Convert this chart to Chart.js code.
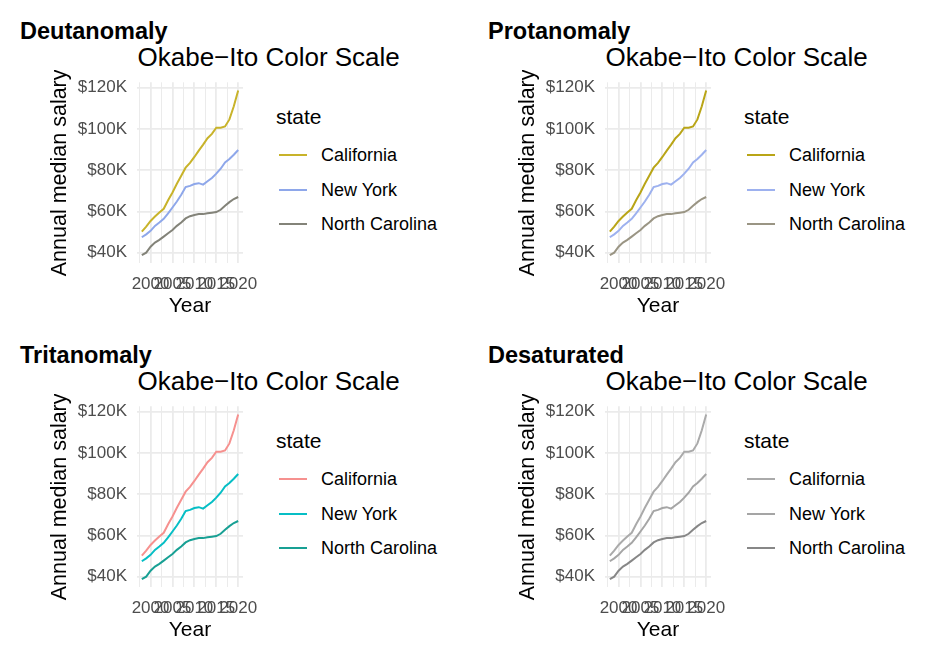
<!DOCTYPE html>
<html>
<head>
<meta charset="utf-8">
<script src="https://cdn.jsdelivr.net/npm/chart.js@4.4.1/dist/chart.umd.min.js"></script>
<style>
  html, body { margin: 0; padding: 0; background: #ffffff; }
  #wrap { position: relative; width: 945px; height: 652px; overflow: hidden; font-family: "Liberation Sans", Arial, sans-serif; }
  .txt { position: absolute; white-space: nowrap; }
  canvas { position: absolute; }
</style>
</head>
<body>
<div id="wrap"></div>
<script>
// ---------------- data ----------------
const years = [1998,1999,2000,2001,2002,2003,2004,2005,2006,2007,2008,2009,2010,2011,2012,2013,2014,2015,2016,2017,2018,2019,2020];
const states = ["California", "New York", "North Carolina"];
// annual median salary, thousands of dollars
const california   = [50.2,52.6,55.4,57.5,59.5,61.3,65.4,69.2,73.4,77.3,81.2,83.5,86.4,89.5,92.4,95.5,97.6,100.6,100.6,101.2,104.6,111.0,118.6];
const newYork      = [47.5,48.9,50.6,53.0,54.6,56.4,59.1,61.9,64.8,68.1,71.8,72.4,73.3,73.7,73.0,74.6,76.2,78.3,80.7,83.8,85.4,87.5,89.8];
const northCarolina= [38.8,40.0,42.9,44.9,46.2,47.8,49.4,51.0,53.0,54.6,56.6,57.7,58.3,58.7,58.7,59.1,59.4,59.7,60.8,62.7,64.5,66.0,67.0];
const seriesValues = [california, newYork, northCarolina];

const panelTitles = ["Deutanomaly", "Protanomaly", "Tritanomaly", "Desaturated"];
const subtitle = "Okabe\u2212Ito Color Scale";
const panelColors = [
  ["#c8b32a", "#8ea7ea", "#838379"],
  ["#b9a517", "#9db1ef", "#9a9584"],
  ["#f6918f", "#06bec5", "#18a094"],
  ["#aaaaaa", "#a5a5a5", "#878787"]
];
const yTickValues = [40, 50, 60, 70, 80, 90, 100, 110, 120];
const xTickValues = [1997.5, 2000, 2002.5, 2005, 2007.5, 2010, 2012.5, 2015, 2017.5, 2020];
const yLabelStep = 20;
const xLabelStep = 5;
const yTitle = "Annual median salary";
const xTitle = "Year";
const legendTitle = "state";

// ---------------- layout ----------------
const FONT = '"Liberation Sans", Arial, sans-serif';
const wrap = document.getElementById('wrap');

function addText(parent, text, left, baseline, size, opts) {
  const d = document.createElement('div');
  d.className = 'txt';
  d.textContent = text;
  d.style.fontSize = size + 'px';
  d.style.lineHeight = size + 'px';
  d.style.left = left + 'px';
  d.style.top = (baseline - 0.8465 * size) + 'px';
  d.style.color = (opts && opts.color) || '#000';
  if (opts && opts.bold) d.style.fontWeight = 'bold';
  parent.appendChild(d);
  return d;
}

// expand like ggplot (5%)
function expand(arrs) {
  const all = [].concat(...arrs);
  const mn = Math.min(...all), mx = Math.max(...all);
  const pad = (mx - mn) * 0.05;
  return [mn - pad, mx + pad];
}
const [yMin, yMax] = expand(seriesValues);
const [xMin, xMax] = expand([years]);

panelTitles.forEach((title, i) => {
  const px = (i % 2) * 468;
  const py = Math.floor(i / 2) * 324;
  const panel = document.createElement('div');
  panel.style.position = 'absolute';
  panel.style.left = px + 'px';
  panel.style.top = py + 'px';
  panel.style.width = '468px';
  panel.style.height = '324px';
  wrap.appendChild(panel);

  addText(panel, title, 20, 40, 23.5, {bold: true});
  addText(panel, subtitle, 137.5, 65.7, 26);

  // legend
  addText(panel, legendTitle, 276, 123.3, 21);
  states.forEach((s, k) => {
    const cy = 155 + k * 34.5;
    const key = document.createElement('div');
    key.style.position = 'absolute';
    key.style.left = '279px';
    key.style.top = (cy - 1) + 'px';
    key.style.width = '28px';
    key.style.height = '2px';
    key.style.background = panelColors[i][k];
    panel.appendChild(key);
    addText(panel, s, 321, cy + 0.358 * 18, 18);
  });

  const cv = document.createElement('canvas');
  cv.width = 270; cv.height = 250;
  cv.style.left = '0px'; cv.style.top = '70px';
  cv.style.width = '270px'; cv.style.height = '250px';
  panel.appendChild(cv);

  new Chart(cv.getContext('2d'), {
    type: 'line',
    data: {
      datasets: states.map((s, k) => ({
        label: s,
        data: years.map((yr, j) => ({x: yr, y: seriesValues[k][j]})),
        borderColor: panelColors[i][k],
        backgroundColor: panelColors[i][k],
        borderWidth: 2,
        pointRadius: 0,
        tension: 0,
        fill: false
      }))
    },
    options: {
      responsive: false,
      animation: false,
      devicePixelRatio: 1,
      layout: { padding: { left: 0, right: 27, top: 12.3, bottom: 0 } },
      plugins: { legend: { display: false }, tooltip: { enabled: false }, title: { display: false } },
      scales: {
        x: {
          type: 'linear',
          min: xMin, max: xMax,
          afterBuildTicks: (sc) => { sc.ticks = xTickValues.map(v => ({value: v})); },
          afterFit: (sc) => { sc.height = 56.6; sc.paddingLeft = 0; sc.paddingRight = 0; },
          grid: {
            color: '#ebebeb',
            lineWidth: (c) => (c.tick && c.tick.value % xLabelStep === 0) ? 1.8 : 1.0,
            drawTicks: false
          },
          border: { display: false },
          ticks: {
            autoSkip: false, maxRotation: 0, minRotation: 0,
            padding: 11,
            color: '#4d4d4d',
            font: { family: FONT, size: 17 },
            callback: (v) => (v % xLabelStep === 0) ? String(v) : ''
          },
          title: { display: true, text: xTitle, color: '#000', font: { family: FONT, size: 21 }, padding: { top: 0, bottom: 1 } }
        },
        y: {
          type: 'linear',
          min: yMin, max: yMax,
          afterBuildTicks: (sc) => { sc.ticks = yTickValues.map(v => ({value: v})); },
          afterFit: (sc) => { sc.width = 137; sc.paddingTop = 0; sc.paddingBottom = 0; },
          grid: {
            color: '#ebebeb',
            lineWidth: (c) => (c.tick && c.tick.value % yLabelStep === 0) ? 1.8 : 1.0,
            drawTicks: false
          },
          border: { display: false },
          ticks: {
            padding: 10,
            color: '#4d4d4d',
            font: { family: FONT, size: 17 },
            callback: (v) => (v % yLabelStep === 0) ? ('$' + v + 'K') : ''
          },
          title: { display: true, text: yTitle, color: '#000', font: { family: FONT, size: 21.5 }, padding: { top: 47, bottom: 0 } }
        }
      }
    }
  });
});
</script>
</body>
</html>
